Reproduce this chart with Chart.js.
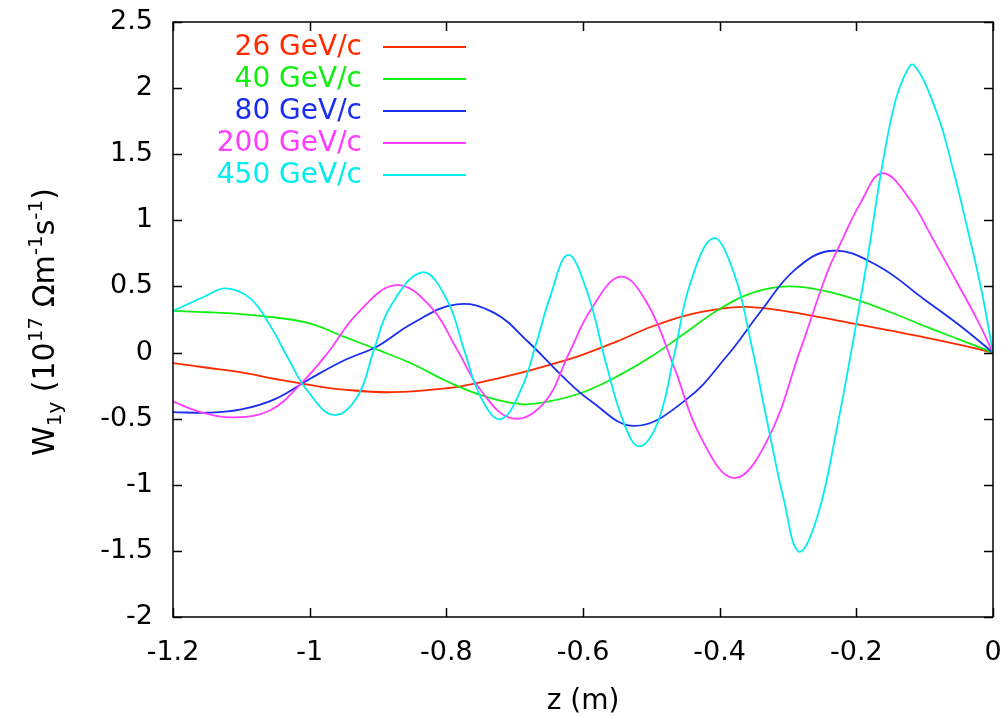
<!DOCTYPE html>
<html>
<head>
<meta charset="utf-8">
<script src="https://cdn.jsdelivr.net/npm/chart.js@4.4.1/dist/chart.umd.min.js"></script>
<style>
  html, body { margin: 0; padding: 0; background: #fff; }
  canvas { display: block; }
</style>
</head>
<body>
<canvas id="wakeChart" width="1008" height="716"></canvas>
<script>
// axis ticks
const X_TICKS = [-1.2, -1, -0.8, -0.6, -0.4, -0.2, 0];
const Y_TICKS = [-2, -1.5, -1, -0.5, 0, 0.5, 1, 1.5, 2, 2.5];

const momenta = ["26 GeV/c", "40 GeV/c", "80 GeV/c", "200 GeV/c", "450 GeV/c"];

// wake function W1y vs z, one pair of arrays per beam momentum
const z26 = [-1.2, -1.15, -1.1, -1.05, -1.0, -0.95, -0.88, -0.8, -0.75, -0.7, -0.65, -0.6, -0.55, -0.5, -0.45, -0.4, -0.36, -0.3, -0.25, -0.2, -0.15, -0.1, -0.05, 0];
const w26 = [-0.08, -0.115, -0.15, -0.2, -0.245, -0.28, -0.3, -0.27, -0.225, -0.165, -0.095, -0.015, 0.085, 0.195, 0.28, 0.33, 0.345, 0.31, 0.265, 0.215, 0.165, 0.115, 0.06, 0];

const z40 = [-1.2, -1.15, -1.1, -1.05, -1.0, -0.95, -0.9, -0.85, -0.8, -0.75, -0.69, -0.65, -0.6, -0.55, -0.5, -0.45, -0.4, -0.35, -0.3, -0.25, -0.2, -0.15, -0.1, -0.05, 0];
const w40 = [0.315, 0.305, 0.29, 0.265, 0.22, 0.12, 0.02, -0.085, -0.215, -0.32, -0.39, -0.37, -0.3, -0.18, -0.03, 0.15, 0.33, 0.455, 0.5, 0.47, 0.4, 0.305, 0.2, 0.1, 0];

const z80 = [-1.2, -1.15, -1.1, -1.05, -1.0, -0.95, -0.9, -0.85, -0.785, -0.73, -0.68, -0.63, -0.59, -0.525, -0.45, -0.39, -0.34, -0.29, -0.235, -0.17, -0.1, -0.05, 0];
const w80 = [-0.45, -0.455, -0.43, -0.35, -0.2, -0.06, 0.05, 0.22, 0.365, 0.3, 0.08, -0.18, -0.36, -0.555, -0.36, -0.03, 0.31, 0.625, 0.77, 0.66, 0.4, 0.21, 0];

const z200 = [-1.2, -1.16, -1.11, -1.057, -1.013, -0.974, -0.93, -0.874, -0.823, -0.784, -0.75, -0.704, -0.657, -0.62, -0.589, -0.545, -0.506, -0.467, -0.428, -0.379, -0.33, -0.282, -0.243, -0.223, -0.194, -0.162, -0.121, -0.087, -0.052, -0.023, 0];
const w200 = [-0.37, -0.45, -0.49, -0.434, -0.237, -0.005, 0.297, 0.51, 0.347, 0.02, -0.283, -0.497, -0.38, 0.0, 0.32, 0.574, 0.373, -0.107, -0.636, -0.95, -0.66, 0.02, 0.6, 0.827, 1.13, 1.356, 1.154, 0.85, 0.524, 0.247, 0];

const z450 = [-1.2, -1.155, -1.123, -1.087, -1.057, -1.033, -1.004, -0.965, -0.93, -0.906, -0.882, -0.835, -0.799, -0.774, -0.75, -0.721, -0.691, -0.667, -0.648, -0.622, -0.594, -0.565, -0.54, -0.518, -0.491, -0.467, -0.443, -0.409, -0.379, -0.355, -0.33, -0.306, -0.284, -0.257, -0.228, -0.206, -0.184, -0.164, -0.145, -0.13, -0.116, -0.082, -0.057, -0.038, -0.018, 0];
const w450 = [0.315, 0.42, 0.486, 0.41, 0.196, -0.03, -0.283, -0.472, -0.333, 0.02, 0.347, 0.607, 0.398, 0.02, -0.333, -0.505, -0.283, 0.095, 0.423, 0.738, 0.46, -0.107, -0.535, -0.71, -0.535, -0.03, 0.524, 0.865, 0.6, 0.095, -0.535, -1.115, -1.506, -1.24, -0.56, 0.05, 0.7, 1.356, 1.86, 2.087, 2.175, 1.81, 1.356, 0.95, 0.5, 0];

const COLORS = ["#ff2a00", "#11ee11", "#1a2ef0", "#ff3cff", "#00eeee"];
const FONT = "DejaVu Sans";
const TICK = 9;

const series = [[z26, w26], [z40, w40], [z80, w80], [z200, w200], [z450, w450]];

function toPoints(zs, ws) {
  return zs.map((z, i) => ({ x: z, y: ws[i] }));
}

const datasets = series.map(([zs, ws], i) => ({
  label: momenta[i],
  data: toPoints(zs, ws),
  borderColor: COLORS[i],
  backgroundColor: COLORS[i],
  borderWidth: 1.8,
  pointRadius: 0,
  fill: false,
  tension: 0.4,
  order: series.length - i // later momenta drawn on top
}));

// y label pieces: main text, subscripts and superscripts
const yTitleRuns = [
  { text: "W", size: 30, shift: 0 },
  { text: "1y", size: 20, shift: 7 },
  { text: " (10", size: 30, shift: 0 },
  { text: "17", size: 20, shift: -12 },
  { text: " \u03A9m", size: 30, shift: 0 },
  { text: "-1", size: 20, shift: -12 },
  { text: "s", size: 30, shift: 0 },
  { text: "-1", size: 20, shift: -12 },
  { text: ")", size: 30, shift: 0 }
];

// gnuplot-like frame: border, inward ticks on all sides, key and axis titles
const frameAndLabels = {
  id: "frameAndLabels",
  afterDraw(chart) {
    const { ctx, chartArea: a, scales } = chart;
    ctx.save();

    ctx.strokeStyle = "#000";
    ctx.lineWidth = 1.5;
    ctx.strokeRect(a.left, a.top, a.right - a.left, a.bottom - a.top);
    ctx.beginPath();
    X_TICKS.forEach(v => {
      const x = Math.round(scales.x.getPixelForValue(v)) + 0.5;
      ctx.moveTo(x, a.bottom); ctx.lineTo(x, a.bottom - TICK);
      ctx.moveTo(x, a.top); ctx.lineTo(x, a.top + TICK);
    });
    Y_TICKS.forEach(v => {
      const y = Math.round(scales.y.getPixelForValue(v)) + 0.5;
      ctx.moveTo(a.left, y); ctx.lineTo(a.left + TICK, y);
      ctx.moveTo(a.right, y); ctx.lineTo(a.right - TICK, y);
    });
    ctx.stroke();

    // key
    ctx.font = "28px '" + FONT + "'";
    ctx.textAlign = "right";
    ctx.textBaseline = "middle";
    chart.data.datasets.forEach((ds, i) => {
      const y = 47 + i * 32;
      ctx.fillStyle = ds.borderColor;
      ctx.fillText(ds.label, 362, y + 1);
      ctx.strokeStyle = ds.borderColor;
      ctx.lineWidth = 1.8;
      ctx.beginPath();
      ctx.moveTo(383, y);
      ctx.lineTo(466, y);
      ctx.stroke();
    });

    // x title
    ctx.fillStyle = "#000";
    ctx.textAlign = "center";
    ctx.textBaseline = "alphabetic";
    ctx.fillText("z (m)", (a.left + a.right) / 2, 709);

    // y title, rotated
    ctx.textAlign = "left";
    let total = 0;
    yTitleRuns.forEach(r => {
      ctx.font = r.size + "px '" + FONT + "'";
      r.width = ctx.measureText(r.text).width;
      total += r.width;
    });
    ctx.translate(54, 322);
    ctx.rotate(-Math.PI / 2);
    let pos = -total / 2;
    yTitleRuns.forEach(r => {
      ctx.font = r.size + "px '" + FONT + "'";
      ctx.fillText(r.text, pos, r.shift);
      pos += r.width;
    });

    ctx.restore();
  }
};

const fmt = v => String(Number(v.toFixed(1)));

// keep tick labels from pushing the plot frame inward
function noOverhang(s) {
  s.paddingLeft = 0;
  s.paddingRight = 0;
  s.paddingTop = 0;
  s.paddingBottom = 0;
}

const config = {
  type: "line",
  data: { datasets: datasets },
  options: {
    responsive: false,
    animation: false,
    layout: { padding: { top: 22, right: 15, bottom: 0, left: 0 } },
    plugins: {
      legend: { display: false },
      tooltip: { enabled: false }
    },
    scales: {
      x: {
        type: "linear",
        min: -1.2,
        max: 0,
        afterBuildTicks: s => { s.ticks = X_TICKS.map(v => ({ value: v })); },
        afterFit: s => { s.height = 99; noOverhang(s); },
        grid: { display: false, drawTicks: false },
        border: { display: false },
        ticks: {
          font: { family: FONT, size: 27 },
          color: "#000",
          padding: 20,
          maxRotation: 0,
          autoSkip: false,
          callback: fmt
        }
      },
      y: {
        min: -2,
        max: 2.5,
        afterBuildTicks: s => { s.ticks = Y_TICKS.map(v => ({ value: v })); },
        afterFit: s => { s.width = 173; noOverhang(s); },
        grid: { display: false, drawTicks: false },
        border: { display: false },
        ticks: {
          font: { family: FONT, size: 27 },
          color: "#000",
          padding: 20,
          autoSkip: false,
          callback: fmt
        }
      }
    }
  },
  plugins: [frameAndLabels]
};

const ctx = document.getElementById("wakeChart");

let wakeChart = new Chart(ctx, config);
</script>
</body>
</html>
